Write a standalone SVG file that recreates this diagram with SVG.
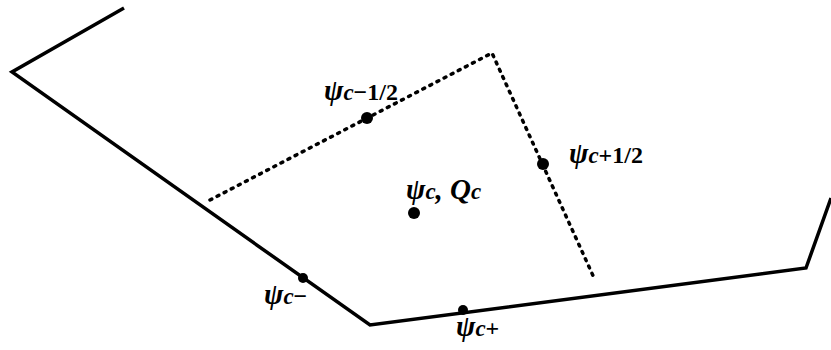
<svg xmlns="http://www.w3.org/2000/svg" width="831" height="350" viewBox="0 0 831 350">
<style>
.solid{fill:none;stroke:#000;stroke-width:3.5;stroke-linejoin:miter}
.dot{fill:none;stroke:#000;stroke-width:3.5;stroke-dasharray:2 6;stroke-linecap:round}
.lbl{font-family:"Liberation Serif",serif;font-style:italic;font-weight:bold;font-size:29px;fill:#000}
.sub{font-size:23px}
.up{font-style:normal;font-size:24px}
</style>
<rect width="831" height="350" fill="#fff"/>
<g id="connectors">
<polyline class="solid" points="124,8 12,72 370,325 806,268 831,198"/>
<polyline class="dot" points="210,200 492,53 595,280"/>
</g>
<g id="n_cm12"><circle cx="367" cy="118" r="6"/><text class="lbl" x="324" y="100">ψ<tspan class="sub">c</tspan><tspan class="up">−1/2</tspan></text></g>
<g id="n_cp12"><circle cx="543" cy="164" r="6"/><text class="lbl" x="569" y="163">ψ<tspan class="sub">c</tspan><tspan class="up">+1/2</tspan></text></g>
<g id="n_c"><circle cx="414" cy="213" r="6"/><text class="lbl" x="406" y="199">ψ<tspan class="sub">c</tspan><tspan>, </tspan>Q<tspan class="sub">c</tspan></text></g>
<g id="n_cm"><circle cx="303" cy="278" r="5"/><text class="lbl" x="264" y="304">ψ<tspan class="sub">c</tspan><tspan class="up">−</tspan></text></g>
<g id="n_cp"><circle cx="463" cy="310" r="5"/><text class="lbl" x="456" y="336">ψ<tspan class="sub">c</tspan><tspan class="up">+</tspan></text></g>
</svg>
